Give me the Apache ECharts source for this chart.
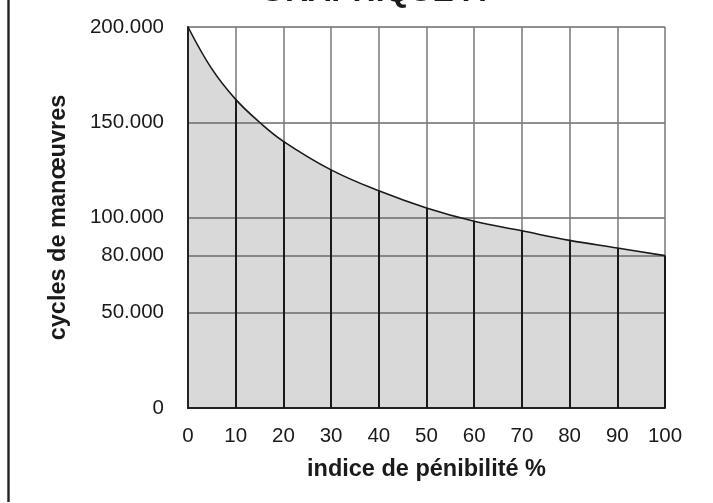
<!DOCTYPE html>
<html>
<head>
<meta charset="utf-8">
<script src="https://cdn.jsdelivr.net/npm/echarts@6/dist/echarts.min.js"></script>
<style>
html,body{margin:0;padding:0;background:#fff;}
#c{width:713px;height:503px;}
</style>
</head>
<body>
<div id="c"></div>
<script>
var titleText = 'GRAPHIQUE A';
var xName = 'indice de pénibilité %';
var yName = 'cycles de manœuvres';
var xValues = [0, 5, 10, 15, 20, 30, 40, 50, 60, 70, 80, 90, 100];
var cycles = [200000, 178000, 162000, 150000, 140000, 125000, 114000, 105000, 98000, 93000, 88000, 84000, 80000];
var yTickValues = [0, 50000, 80000, 100000, 150000, 200000];

var pts = xValues.map(function (x, i) { return [x, cycles[i]]; });
var darkSegs = [];
xValues.forEach(function (x, i) {
  if (x > 0 && x % 10 === 0) darkSegs.push([{ coord: [x, 0] }, { coord: [x, cycles[i]] }]);
});

var chart = echarts.init(document.getElementById('c'));
var font = 'Liberation Sans, Arial, Helvetica, sans-serif';
chart.setOption({
  animation: false,
  title: {
    text: titleText, left: 368, top: -29, textAlign: 'center',
    textStyle: { fontFamily: font, fontSize: 32, fontWeight: 'bold', color: '#1a1a1a' }
  },
  grid: { left: 188, right: 48, top: 27, bottom: 95 },
  xAxis: {
    type: 'value', min: 0, max: 100, interval: 10, z: 3,
    name: xName, nameLocation: 'middle', nameGap: 50,
    nameTextStyle: { fontFamily: font, fontSize: 23.5, fontWeight: 'bold', color: '#1a1a1a' },
    axisLine: { show: true, lineStyle: { color: '#222', width: 2 } },
    axisTick: { show: false },
    axisLabel: { margin: 18, fontFamily: font, fontSize: 20.5, color: '#1a1a1a' },
    splitLine: { show: true, lineStyle: { color: '#777', width: 1.5 } }
  },
  yAxis: {
    type: 'value', min: 0, max: 200000, z: 3,
    name: yName, nameLocation: 'middle', nameGap: 117, nameRotate: 90,
    nameTextStyle: { fontFamily: font, fontSize: 23.5, fontWeight: 'bold', color: '#1a1a1a' },
    axisLine: { show: true, lineStyle: { color: '#222', width: 2 } },
    axisTick: { show: false, customValues: yTickValues },
    axisLabel: {
      customValues: yTickValues, margin: 24, fontFamily: font, fontSize: 20.5, color: '#1a1a1a',
      formatter: function (v) { return v === 0 ? '0' : (v / 1000).toFixed(0) + '.000'; }
    },
    splitLine: { show: true, lineStyle: { color: '#6a6a6a', width: 1.5 } }
  },
  graphic: [{
    type: 'line', shape: { x1: 8.5, y1: 0, x2: 8.5, y2: 502 },
    style: { stroke: '#222', lineWidth: 2.4 }
  }],
  series: [{
    type: 'line', data: pts, smooth: 0.4, symbol: 'none', z: 1,
    lineStyle: { width: 0 },
    areaStyle: { color: '#d9d9d9', opacity: 1 }
  }, {
    type: 'line', data: pts, smooth: 0.4, symbol: 'none', z: 5,
    lineStyle: { color: '#1a1a1a', width: 1.6 },
    markLine: {
      silent: true, symbol: 'none', label: { show: false },
      lineStyle: { color: '#1a1a1a', width: 2, type: 'solid' },
      data: darkSegs
    }
  }]
});
</script>
</body>
</html>
